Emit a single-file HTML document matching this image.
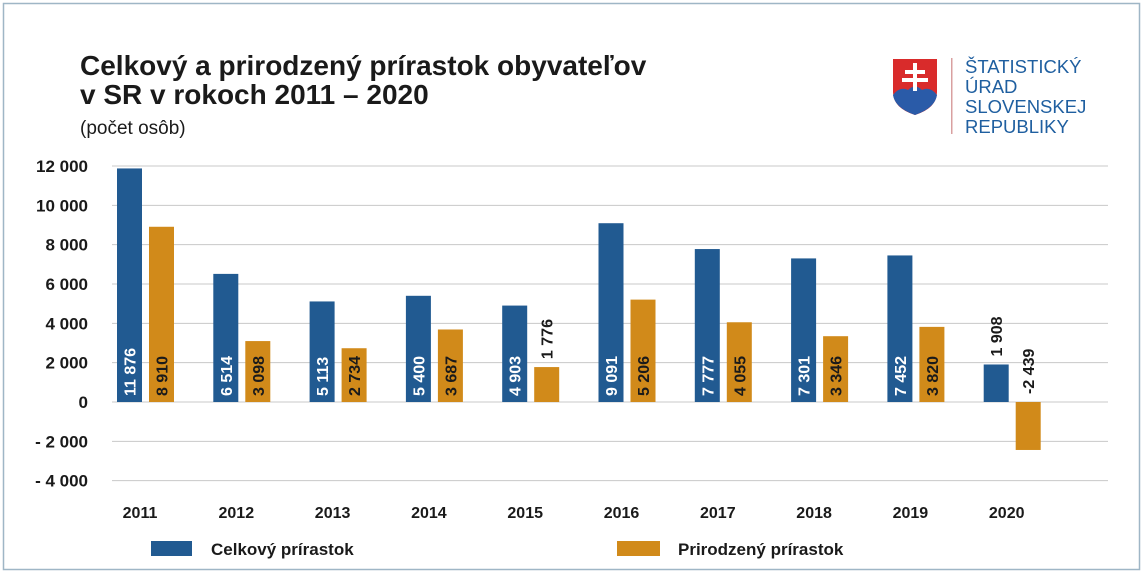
<!DOCTYPE html>
<html><head><meta charset="utf-8"><style>
body{margin:0;background:#fff;}
svg{display:block;font-family:"Liberation Sans",Arial,sans-serif;}
</style></head><body>
<svg id="c" width="1143" height="573" viewBox="0 0 1143 573">
<rect x="3.5" y="3.5" width="1136" height="566" fill="#fff" stroke="#9fb6c6" stroke-width="1.5"/>
<text x="80" y="75" font-size="28" font-weight="bold" fill="#1a1a1a">Celkový a prirodzený prírastok obyvateľov</text>
<text x="80" y="104" font-size="28" font-weight="bold" fill="#1a1a1a">v SR v rokoch 2011 – 2020</text>
<text x="80" y="134" font-size="19" fill="#1a1a1a">(počet osôb)</text>
<g>
<path d="M893 59 H937 V92 Q937 108 915 115 Q893 108 893 92 Z" fill="#d92b2b"/>
<path d="M893 95 Q900 86 908 90 Q915 83 922 90 Q930 86 937 95 Q935 108 915 115 Q895 108 893 95Z" fill="#2a5ba8"/>
<rect x="913" y="63" width="4" height="28" fill="#fff"/>
<rect x="905" y="70" width="20" height="4" fill="#fff"/>
<rect x="902" y="78" width="26" height="4" fill="#fff"/>
<rect x="951" y="58" width="1.5" height="76" fill="#d9a0a0"/>
<g font-size="18.5" fill="#1f5fa0">
<text x="965" y="73">ŠTATISTICKÝ</text><text x="965" y="93">ÚRAD</text><text x="965" y="113">SLOVENSKEJ</text><text x="965" y="133">REPUBLIKY</text>
</g></g>
<g id="grid"></g><g id="bars"></g>
<g>
<rect x="151" y="541" width="41" height="15" fill="#215a91"/>
<text x="211" y="555" font-size="17" font-weight="bold" fill="#1a1a1a">Celkový prírastok</text>
<rect x="617" y="541" width="43" height="15" fill="#d18a1a"/>
<text x="678" y="555" font-size="17" font-weight="bold" fill="#1a1a1a">Prirodzený prírastok</text>
</g>
</svg>
<script>
const categories=["2011","2012","2013","2014","2015","2016","2017","2018","2019","2020"];
const totalValues=[11876,6514,5113,5400,4903,9091,7777,7301,7452,1908];
const naturalValues=[8910,3098,2734,3687,1776,5206,4055,3346,3820,-2439];
const tickValues=[12000,10000,8000,6000,4000,2000,0,-2000,-4000];
const NS="http://www.w3.org/2000/svg";
function y(v){return 402-v*236/12000;}
function xc(i){return 145+i*96.3;}
function fmt(v){let s=Math.abs(v).toString().replace(/\B(?=(\d{3})+(?!\d))/g," ");return v<0?"-"+s:s;}
function mk(t,a,p){const e=document.createElementNS(NS,t);for(const k in a)e.setAttribute(k,a[k]);p.appendChild(e);return e;}
const grid=document.getElementById('grid'),bars=document.getElementById('bars');
tickValues.forEach(v=>{
 const l=mk('line',{x1:112,x2:1108,y1:y(v),y2:y(v),stroke:'#c8c8c8','stroke-width':1},grid);
 
 
 const t=mk('text',{x:88,y:y(v)+6,'text-anchor':'end','font-size':17,'font-weight':'bold',fill:'#1a1a1a'},grid);
 t.textContent=v<0?"- "+fmt(-v):fmt(v);
 
 
});
categories.forEach((c,i)=>{
 const cx=xc(i);
 const t=mk('text',{x:cx-5,y:518,'text-anchor':'middle','font-size':16,'font-weight':'bold',fill:'#1a1a1a'},bars);
 t.textContent=c;
 
 
 [[totalValues[i],-28,'#215a91','#fff','bar-total'],[naturalValues[i],4,'#d18a1a','#1a1a1a','bar-natural']].forEach(([v,off,col,tc,nm])=>{
  const x=cx+off,w=25;
  const r=mk('rect',{x:x,y:Math.min(y(v),y(0)),width:w,height:Math.abs(y(v)-y(0)),fill:col},bars);
  
  
  const inside=Math.abs(y(v)-y(0))>45&&v>0;
  const ly=inside?y(0)-6:(v>0?y(v)-8:y(0)-8);
  const lb=mk('text',{x:0,y:0,'font-size':16,'font-weight':'bold',fill:inside?tc:'#1a1a1a',transform:`translate(${x+w/2+6},${ly}) rotate(-90)`},bars);
  lb.textContent=fmt(v);
  
  
 });
});
</script>
</body></html>
